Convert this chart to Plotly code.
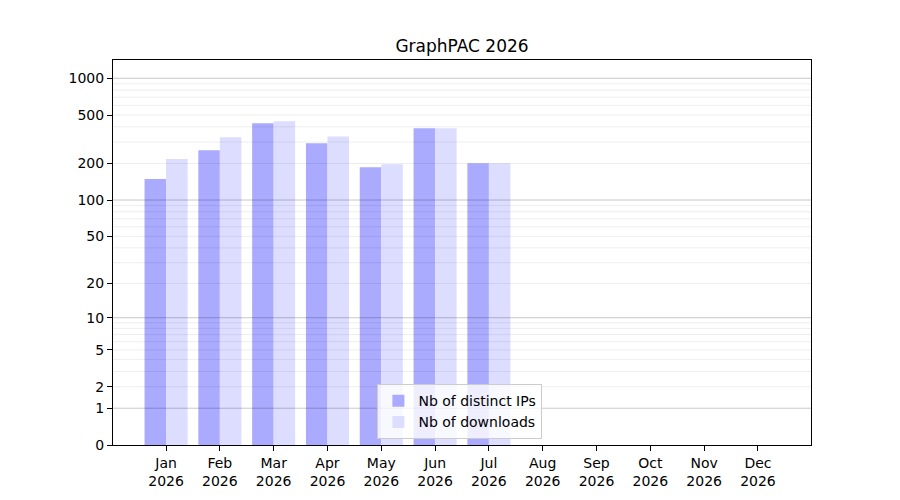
import numpy as np
import plotly.graph_objects as go

months = ['Jan', 'Feb', 'Mar', 'Apr', 'May', 'Jun', 'Jul', 'Aug', 'Sep', 'Oct', 'Nov', 'Dec']
year = '2026'
distinct_ips = [149, 257, 429, 293, 186, 390, 201, 0, 0, 0, 0, 0]
downloads = [218, 329, 445, 333, 197, 390, 201, 0, 0, 0, 0, 0]
y_ticks = [0, 1, 2, 5, 10, 20, 50, 100, 200, 500, 1000]


def fwd(v):
    # the y axis is log10(1 + x)
    return np.log10(1 + np.asarray(v, dtype=float))


x = list(range(len(months)))
font = 'DejaVu Sans'

fig = go.Figure()
fig.add_bar(x=x, y=fwd(distinct_ips), name='Nb of distinct IPs',
            marker=dict(color='#aaaaff', line=dict(width=0)))
fig.add_bar(x=x, y=fwd(downloads), name='Nb of downloads',
            marker=dict(color='#ddddff', line=dict(width=0)))

# grid drawn over the bars, like the original
major = [1, 10, 100, 1000]
minor = [m * 10 ** e for e in range(3) for m in range(2, 10)]
for v in minor:
    fig.add_hline(y=fwd(v), line=dict(color='rgba(0,0,0,0.07)', width=1), layer='above')
for v in major:
    fig.add_hline(y=fwd(v), line=dict(color='rgba(0,0,0,0.22)', width=1), layer='above')

# the page body adds an 8px offset, so margins are shifted to compensate
fig.update_layout(
    width=900, height=500,
    paper_bgcolor='white', plot_bgcolor='white',
    margin=dict(l=105, r=97, t=52, b=63),
    font=dict(family=font, size=14, color='black'),
    title=dict(text='GraphPAC 2026', x=(105 + 698 / 2) / 900, xanchor='center',
               y=1 - 38 / 500, yanchor='middle', font=dict(size=17)),
    barmode='group', bargap=0.2, bargroupgap=0,
    showlegend=True,
    legend=dict(x=0.497, xanchor='center', y=0.015, yanchor='bottom',
                bgcolor='rgba(255,255,255,0.8)', bordercolor='#cccccc', borderwidth=1,
                font=dict(size=14), traceorder='normal'),
)
fig.update_xaxes(range=[-0.986, 11.986], tickvals=x,
                 ticktext=[f'{m}<br>{year}' for m in months],
                 showgrid=False, zeroline=False, showline=True, linecolor='black',
                 linewidth=1, mirror=True, ticks='outside', ticklen=5, tickcolor='black')
fig.update_yaxes(range=[0, 3.15], tickvals=fwd(y_ticks), ticktext=[str(t) for t in y_ticks],
                 showgrid=False, zeroline=False, showline=True, linecolor='black',
                 linewidth=1, mirror=True, ticks='outside', ticklen=5, tickcolor='black')

fig.write_html("out.html")
